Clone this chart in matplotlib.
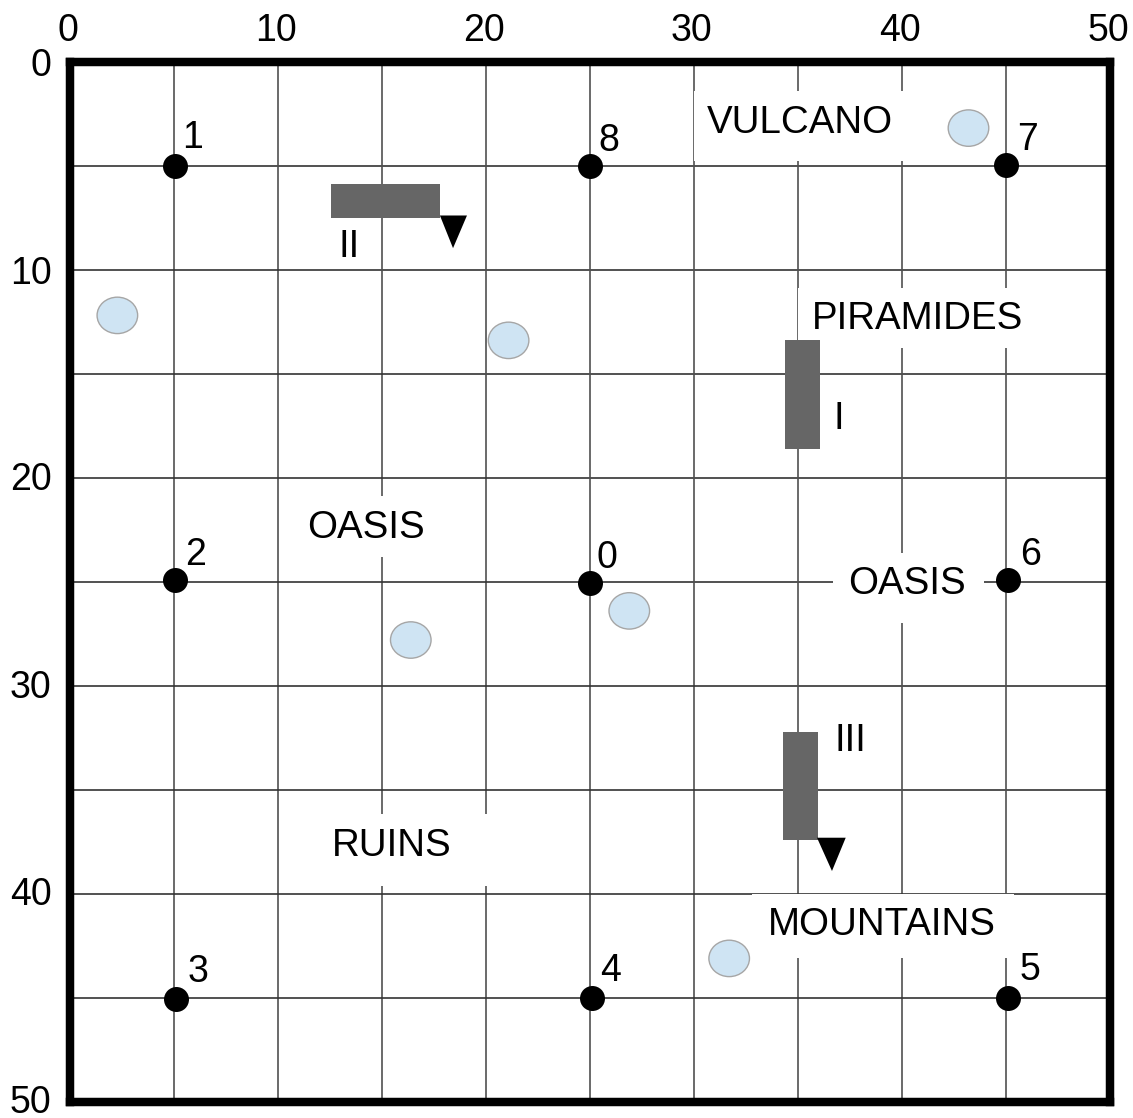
import matplotlib
matplotlib.use("Agg")
import matplotlib.pyplot as plt
from matplotlib.patches import Ellipse, Rectangle, Polygon
from matplotlib.transforms import ScaledTranslation

plt.rcParams["font.family"] = ["Liberation Sans", "DejaVu Sans"]

# Data (map units, y grows downwards)
tick_labels = [0, 10, 20, 30, 40, 50]
grid_lines = [5, 10, 15, 20, 25, 30, 35, 40, 45]

point_ids = ["1", "8", "7", "2", "0", "6", "3", "4", "5"]
point_x = [5.07, 25.02, 45.0, 5.07, 25.02, 45.1, 5.1, 25.1, 45.1]
point_y = [5.0, 5.0, 4.97, 24.9, 25.07, 24.9, 45.05, 45.0, 45.0]
point_label_x = [5.93, 25.92, 46.05, 6.08, 25.83, 46.2, 6.17, 26.02, 46.15]
point_label_y = [3.7, 3.82, 3.79, 23.72, 23.86, 23.72, 43.73, 43.71, 43.66]

lake_x = [43.2, 2.3, 21.1, 26.9, 16.4, 31.7]
lake_y = [3.2, 12.2, 13.4, 26.4, 27.8, 43.1]

place_names = ["VULCANO", "PIRAMIDES", "OASIS", "OASIS", "RUINS", "MOUNTAINS"]
place_x = [35.1, 40.77, 14.25, 40.25, 15.5, 39.05]
place_y = [2.95, 12.36, 22.42, 25.09, 37.68, 41.5]
# white label backgrounds: x0, x1, y0, y1
mask_x0 = [30.0, 35.0, 11.0, 36.7, 10.1, 32.8]
mask_x1 = [44.0, 46.0, 18.0, 43.95, 20.3, 45.4]
mask_y0 = [1.42, 10.88, 20.9, 23.6, 36.15, 40.0]
mask_y1 = [4.78, 13.77, 23.8, 27.0, 39.6, 43.1]

bar_names = ["II", "I", "III"]
bar_x0 = [12.56, 34.4, 34.3]
bar_x1 = [17.8, 36.07, 35.95]
bar_y0 = [5.9, 13.4, 32.2]
bar_y1 = [7.5, 18.6, 37.4]
bar_label_x = [13.43, 36.98, 37.55]
bar_label_y = [8.9, 17.2, 32.67]

# Arrow heads as top-left, top-right, tip
arrow_x = [[17.8, 19.1, 18.43], [35.92, 37.3, 36.64]]
arrow_y = [[7.4, 7.4, 8.97], [37.3, 37.3, 38.9]]

# upward nudge of the left labels, pixels
ytick_nudge = [0, 0, 2, 2, 3, 3]

fig = plt.figure(figsize=(11.33, 11.18), dpi=100)
fig_w, fig_h = 1133.0, 1118.0
ax = fig.add_axes([69.5 / fig_w, 1 - 1102 / fig_h, 1040.5 / fig_w, 1040.5 / fig_h])
ax.set_xlim(0, 50)
ax.set_ylim(50, 0)

for g in grid_lines:
    ax.axvline(g, color="#505050", lw=1.2, zorder=1)
    ax.axhline(g, color="#333333", lw=1.2, zorder=1)

for x0, x1, y0, y1 in zip(mask_x0, mask_x1, mask_y0, mask_y1):
    ax.add_patch(Rectangle((x0, y0), x1 - x0, y1 - y0, fc="white", ec="none", zorder=2))

for x, y in zip(lake_x, lake_y):
    ax.add_patch(Ellipse((x, y), 1.95, 1.75, fc="#cfe4f3", ec="#a6a6a6", lw=1.0, zorder=3))

for x0, x1, y0, y1 in zip(bar_x0, bar_x1, bar_y0, bar_y1):
    ax.add_patch(Rectangle((x0, y0), x1 - x0, y1 - y0, fc="#666666", ec="none", zorder=3))

for xs, ys in zip(arrow_x, arrow_y):
    ax.add_patch(Polygon(list(zip(xs, ys)), closed=True, fc="black", ec="none", zorder=3))

ax.scatter(point_x, point_y, s=324, color="black", zorder=4, linewidths=0)

for name, x, y in zip(point_ids, point_label_x, point_label_y):
    ax.text(x, y, name, fontsize=27, ha="center", va="center", zorder=5)

for name, x, y in zip(place_names, place_x, place_y):
    ax.text(x, y, name, fontsize=27.7, ha="center", va="center", zorder=5)

for name, x, y in zip(bar_names, bar_label_x, bar_label_y):
    ax.text(x, y, name, fontsize=27.7, ha="center", va="center", zorder=5)

ax.xaxis.tick_top()
ax.set_xticks(tick_labels)
ax.set_yticks(tick_labels)
ax.tick_params(axis="x", length=0, labelsize=27, pad=9)
ax.tick_params(axis="y", length=0, labelsize=27, pad=13)

# top labels sit a little left of their grid position
shift = ScaledTranslation(-2 / 100, 0, fig.dpi_scale_trans)
for label in ax.get_xticklabels():
    label.set_transform(label.get_transform() + shift)

for label, dy in zip(ax.get_yticklabels(), ytick_nudge):
    label.set_transform(label.get_transform() + ScaledTranslation(0, dy / 100, fig.dpi_scale_trans))

for spine in ax.spines.values():
    spine.set_linewidth(6.1)
    spine.set_color("black")

fig.savefig("out.png", dpi=100)
